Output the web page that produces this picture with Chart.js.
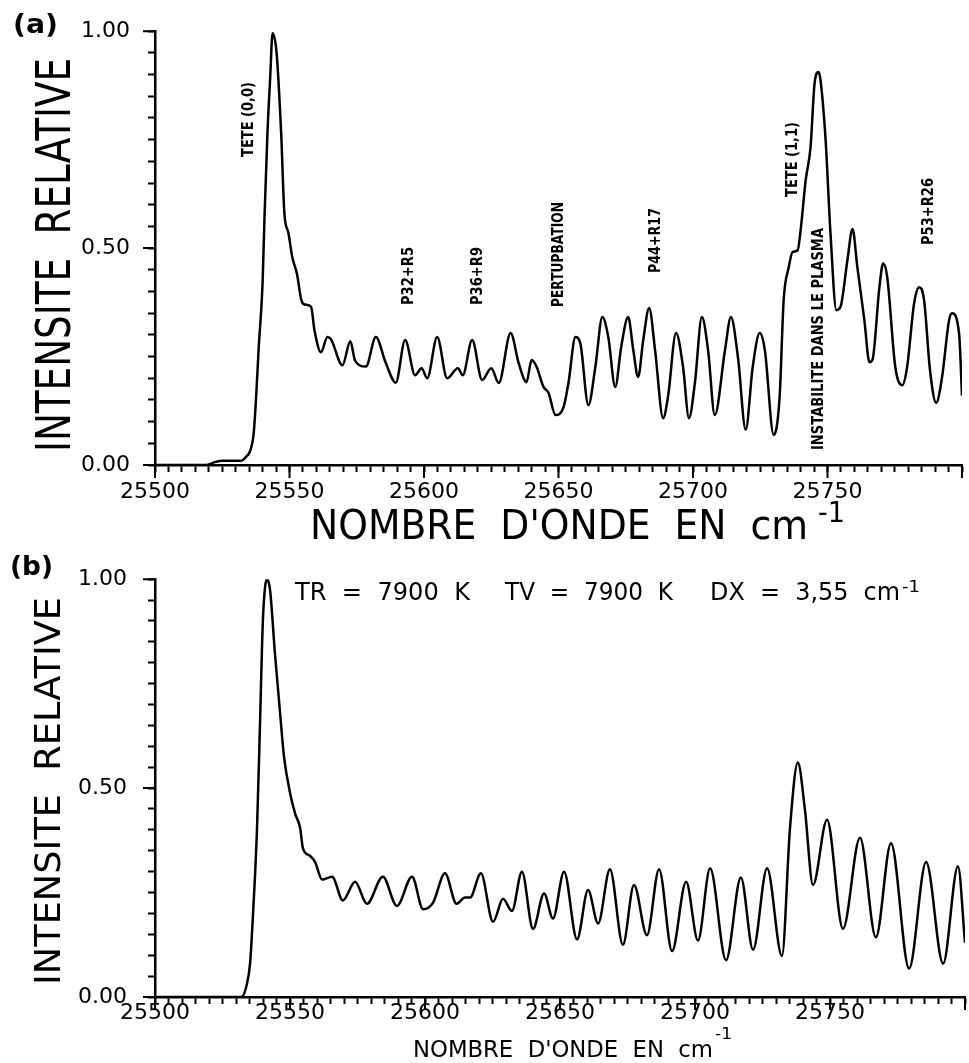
<!DOCTYPE html>
<html>
<head>
<meta charset="utf-8">
<script src="https://cdn.jsdelivr.net/npm/chart.js@4.4.1/dist/chart.umd.min.js"></script>
<style>
  html, body { margin: 0; padding: 0; background: #fff; }
  #wrap { position: relative; width: 969px; height: 1063px; overflow: hidden; }
  canvas { position: absolute; left: 0; }
  #chartA { top: 0; }
  #chartB { top: 545px; }
</style>
</head>
<body>
<div id="wrap">
  <canvas id="chartA" width="969" height="545"></canvas>
  <canvas id="chartB" width="969" height="518"></canvas>
</div>
<script>
// (a) spectre mesure, (b) spectre calcule - intensite relative en fonction du nombre d'onde

const wavenumberA = [25500, 25519, 25522, 25525, 25532, 25534, 25535.2, 25536.7, 25537.8, 25538.5,
  25540, 25540.7, 25541.8, 25542.8, 25543.7, 25545.2, 25546.9, 25548.1, 25549.6, 25551,
  25552.8, 25554.4, 25555.6, 25558, 25559.3, 25561.7, 25564.1, 25565.4, 25569.7, 25572.6,
  25574.4, 25578.4, 25582.1, 25585.8, 25589.5, 25593, 25596.7, 25599.1, 25601.2, 25604.9,
  25608.6, 25612.6, 25614.4, 25617.9, 25621.6, 25625, 25627.8, 25632.2, 25635.2, 25638.1,
  25640, 25641.9, 25644.4, 25646.3, 25648.9, 25651.9, 25653.7, 25656.3, 25658.1, 25661.1,
  25663.7, 25666.3, 25668.5, 25671.1, 25673.3, 25675.9, 25677.8, 25679.6, 25681.5, 25683.7,
  25685.9, 25688.9, 25690.7, 25693.7, 25696.3, 25698.5, 25700.7, 25703.3, 25705.6, 25708.1,
  25711.9, 25714.1, 25716.7, 25719.6, 25722.2, 25724.8, 25726.7, 25730, 25732.2, 25733.7,
  25735.6, 25737, 25738.9, 25740, 25741.9, 25743.7, 25745.2, 25746.7, 25747.4, 25749.3,
  25751.1, 25753.3, 25754.8, 25757.4, 25759.3, 25761.1, 25763.7, 25765.6, 25766.7, 25769.3,
  25770.7, 25772.2, 25775.2, 25777.8, 25779.6, 25782.2, 25784.1, 25785.9, 25788.1, 25790.4,
  25792.6, 25795.2, 25796.3, 25798.9, 25800];
const intensityA = [0, 0, 0.006, 0.01, 0.01, 0.02, 0.03, 0.074, 0.18, 0.265,
  0.42, 0.57, 0.765, 0.89, 0.995, 0.95, 0.765, 0.58, 0.535, 0.48,
  0.44, 0.38, 0.37, 0.365, 0.31, 0.26, 0.295, 0.29, 0.23, 0.285,
  0.24, 0.227, 0.295, 0.235, 0.19, 0.288, 0.207, 0.223, 0.2, 0.295,
  0.2, 0.223, 0.207, 0.288, 0.196, 0.223, 0.189, 0.304, 0.235, 0.191,
  0.242, 0.226, 0.18, 0.166, 0.115, 0.134, 0.189, 0.295, 0.281, 0.138,
  0.226, 0.341, 0.295, 0.18, 0.272, 0.341, 0.265, 0.203, 0.288, 0.362,
  0.265, 0.108, 0.157, 0.304, 0.226, 0.108, 0.189, 0.341, 0.265, 0.115,
  0.265, 0.341, 0.249, 0.081, 0.226, 0.304, 0.265, 0.069, 0.157, 0.38,
  0.456, 0.491, 0.495, 0.541, 0.657, 0.733, 0.88, 0.906, 0.887, 0.749,
  0.535, 0.357, 0.364, 0.472, 0.544, 0.456, 0.334, 0.237, 0.242, 0.41,
  0.465, 0.433, 0.226, 0.184, 0.226, 0.373, 0.41, 0.38, 0.219, 0.143,
  0.203, 0.334, 0.35, 0.304, 0.16];

const wavenumberB = [25500, 25532, 25534, 25535.2, 25536.3, 25537.8, 25538.9, 25540, 25541.5, 25542.6,
  25544.4, 25546.3, 25547.8, 25550, 25551.9, 25553.7, 25554.8, 25557.4, 25559.3, 25561.9,
  25565.6, 25569.6, 25574.1, 25578.5, 25584.4, 25589.6, 25595.2, 25599.3, 25603, 25607.4,
  25611.7, 25614.8, 25616.7, 25620.7, 25625.2, 25628.9, 25632.2, 25635.9, 25640, 25644.1,
  25647.4, 25651.5, 25656.3, 25660.4, 25664.1, 25668.5, 25673.3, 25677.4, 25682.2, 25686.7,
  25691.5, 25696.7, 25701.1, 25705.6, 25711.5, 25717, 25721.5, 25726.7, 25732.2, 25735.2,
  25738.1, 25740.7, 25743.7, 25748.9, 25754.8, 25761.1, 25767, 25772.6, 25779.3, 25785.6,
  25791.9, 25797.4, 25800];
const intensityB = [0, 0, 0.03, 0.08, 0.198, 0.406, 0.657, 0.907, 1.0, 0.975,
  0.824, 0.682, 0.574, 0.489, 0.439, 0.406, 0.356, 0.338, 0.323, 0.281,
  0.288, 0.231, 0.276, 0.223, 0.288, 0.218, 0.288, 0.21, 0.226, 0.296,
  0.223, 0.238, 0.238, 0.296, 0.18, 0.235, 0.206, 0.3, 0.163, 0.248,
  0.188, 0.3, 0.138, 0.256, 0.176, 0.306, 0.125, 0.268, 0.148, 0.306,
  0.11, 0.276, 0.135, 0.308, 0.088, 0.286, 0.113, 0.308, 0.098, 0.406,
  0.561, 0.449, 0.268, 0.424, 0.163, 0.381, 0.143, 0.368, 0.068, 0.323,
  0.08, 0.313, 0.13];

const xTickLabels = [25500, 25550, 25600, 25650, 25700, 25750];
const yTickLabels = [0, 0.5, 1];

const FONT = "'DejaVu Sans', sans-serif";

// text squeezed/stretched to a measured length, optionally rotated
function fitText(ctx, text, x, y, len, font, angle) {
    ctx.save();
    ctx.font = font;
    ctx.fillStyle = '#000';
    ctx.textAlign = 'left';
    ctx.textBaseline = 'alphabetic';
    ctx.translate(x, y);
    if (angle) ctx.rotate(angle);
    const w = ctx.measureText(text).width;
    ctx.scale(len / w, 1);
    ctx.fillText(text, 0, 0);
    ctx.restore();
}

// longer ticks at the labelled values
const majorTicks = {
    id: 'majorTicks',
    afterDraw(chart) {
        const { ctx, chartArea, scales } = chart;
        ctx.save();
        ctx.strokeStyle = '#000';
        ctx.lineWidth = 2;
        ctx.beginPath();
        xTickLabels.concat([25800]).forEach(v => {
            const px = scales.x.getPixelForValue(v);
            ctx.moveTo(px, chartArea.bottom);
            ctx.lineTo(px, chartArea.bottom + 13);
        });
        yTickLabels.forEach(v => {
            const py = scales.y.getPixelForValue(v);
            ctx.moveTo(chartArea.left - 12, py);
            ctx.lineTo(chartArea.left, py);
        });
        ctx.stroke();
        ctx.restore();
    }
};

function textLayer(draw) {
    return { id: 'textLayer', afterDraw(chart) { draw(chart.ctx); } };
}

function makeChart(id, xs, ys, o) {
    const ctx = document.getElementById(id).getContext('2d');
    return new Chart(ctx, {
        type: 'line',
        data: {
            datasets: [{
                data: xs.map((x, i) => ({ x: x, y: ys[i] })),
                borderColor: '#000',
                borderWidth: 2.5,
                pointRadius: 0,
                cubicInterpolationMode: 'monotone',
                fill: false
            }]
        },
        options: {
            responsive: false,
            animation: false,
            devicePixelRatio: 1,
            layout: { padding: { left: 0, right: 4, top: o.top, bottom: 0 } },
            plugins: { legend: { display: false }, tooltip: { enabled: false } },
            scales: {
                x: {
                    type: 'linear', min: 25500, max: 25800,
                    afterFit: s => { s.height = o.xAxisHeight; },
                    border: { display: true, color: '#000', width: 2.5 },
                    grid: { drawOnChartArea: false, drawTicks: true, tickLength: 7, tickWidth: 2, tickColor: '#000' },
                    ticks: {
                        stepSize: 5, autoSkip: false, maxRotation: 0, minRotation: 0,
                        padding: o.xPad, color: '#000', font: { family: FONT, size: 22 },
                        callback: v => xTickLabels.includes(Math.round(v)) ? String(Math.round(v)) : ''
                    }
                },
                y: {
                    min: 0, max: 1,
                    afterFit: s => { s.width = 155; },
                    border: { display: true, color: '#000', width: 2.5 },
                    grid: { drawOnChartArea: false, drawTicks: true, tickLength: 7, tickWidth: 2, tickColor: '#000' },
                    ticks: {
                        stepSize: 0.05, autoSkip: false,
                        padding: o.yPad, color: '#000', font: { family: FONT, size: 22 },
                        callback: v => {
                            const r = Math.round(v * 100) / 100;
                            return yTickLabels.includes(r) ? r.toFixed(2) : '';
                        }
                    }
                }
            }
        },
        plugins: [majorTicks, textLayer(o.draw)]
    });
}

const notesA = [
    ['TETE (0,0)', 253, 157, 75],
    ['P32+R5', 413, 305, 58],
    ['P36+R9', 482, 305, 58],
    ['PERTUPBATION', 563, 307, 105],
    ['P44+R17', 660, 273, 65],
    ['TETE (1,1)', 797, 197, 75],
    ['INSTABILITE DANS LE PLASMA', 823, 450, 222],
    ['P53+R26', 933, 245, 67]
];

makeChart('chartA', wavenumberA, intensityA, {
    top: 31, xAxisHeight: 80, xPad: 7, yPad: 18,
    draw: ctx => {
        fitText(ctx, '(a)', 13, 33, 45, 'bold 26px ' + FONT);
        fitText(ctx, 'INTENSITE  RELATIVE', 70, 452, 394, '48px ' + FONT, -Math.PI / 2);
        fitText(ctx, "NOMBRE  D'ONDE  EN  cm", 310, 539, 498, '41px ' + FONT);
        fitText(ctx, '-1', 818, 522, 27, '28px ' + FONT);
        notesA.forEach(n => fitText(ctx, n[0], n[1], n[2], n[3], 'bold 15px ' + FONT, -Math.PI / 2));
    }
});

makeChart('chartB', wavenumberB, intensityB, {
    top: 22, xAxisHeight: 66, xPad: -4, yPad: 21,
    draw: ctx => {
        fitText(ctx, '(b)', 10, 30, 43, 'bold 26px ' + FONT);
        fitText(ctx, 'INTENSITE  RELATIVE', 60, 440, 388, '36px ' + FONT, -Math.PI / 2);
        fitText(ctx, 'TR  =  7900  K', 295, 55, 175, '25px ' + FONT);
        fitText(ctx, 'TV  =  7900  K', 505, 55, 168, '25px ' + FONT);
        fitText(ctx, 'DX  =  3,55  cm', 710, 55, 190, '25px ' + FONT);
        fitText(ctx, '-1', 902, 47, 18, '15px ' + FONT);
        fitText(ctx, "NOMBRE  D'ONDE  EN  cm", 413, 512, 300, '23px ' + FONT);
        fitText(ctx, '-1', 715, 494, 17, '15px ' + FONT);
    }
});
</script>
</body>
</html>
